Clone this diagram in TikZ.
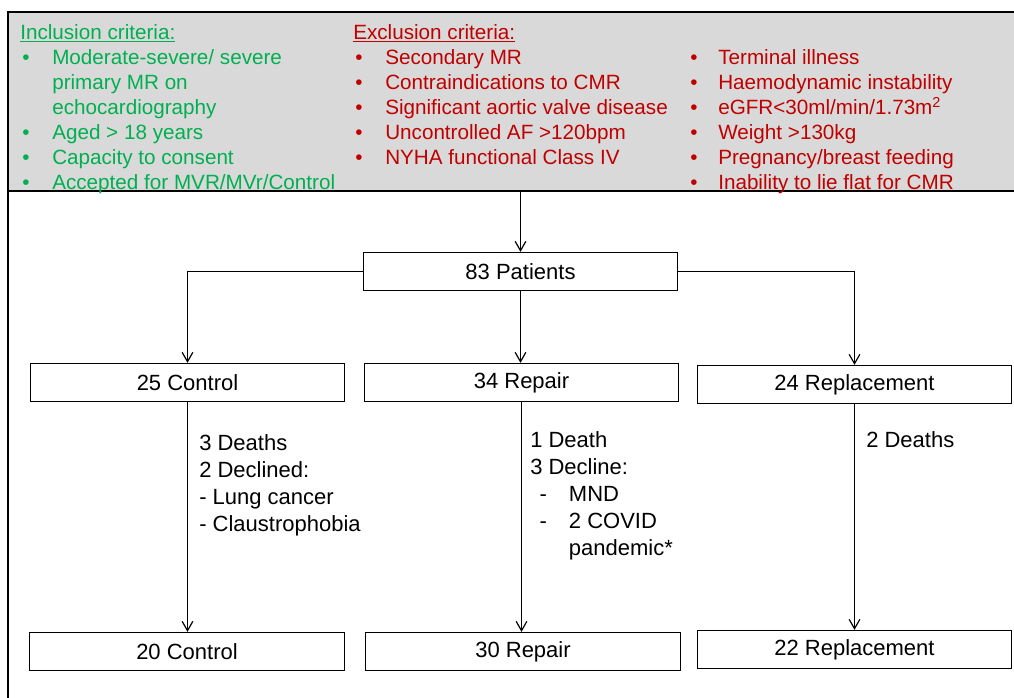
\documentclass[tikz,border=0pt]{standalone}
\usepackage{fontspec}
\setmainfont{Liberation Sans}
\usepackage{tikz}
\usetikzlibrary{arrows.meta}
\definecolor{incgreen}{HTML}{00B050}
\definecolor{excred}{HTML}{C00000}
\definecolor{critgrey}{HTML}{D9D9D9}
\newcommand{\dashline}[1]{\hspace*{7pt}\makebox[22pt][l]{-}#1}

\begin{document}
\begin{tikzpicture}[x=0.75pt,y=-0.75pt,
    every node/.style={font=\fontsize{16.5}{18}\selectfont},
    crit/.style={anchor=base west,inner sep=0pt,font=\fontsize{15.5}{18}\selectfont},
    note/.style={anchor=base west,inner sep=0pt},
    stage/.style={draw,line width=0.9pt,minimum width=236pt,minimum height=28.5pt,inner sep=0pt},
    flow/.style={line width=0.9pt,-{Straight Barb[length=7pt,width=8pt]}}]
    \clip(0,0)rectangle(1014,697);
    % criteria panel
    \fill[critgrey](8,12)rectangle(1020,191);
    \draw[line width=1.4pt](1020,12)--(8,12)--(8,700);
    \draw[line width=1pt](8,191)--(1020,191);
    \node[crit,text=incgreen](inchead) at (20,39){\underline{Inclusion criteria:}};
    \foreach \y in {64,139,164,189}
      \node[crit,text=incgreen](incb\y) at (22,\y){\textbullet};
    \foreach \t [count=\i] in {Moderate-severe/ severe,primary MR on,echocardiography,Aged > 18 years,Capacity to consent,Accepted for MVR/MVr/Control}
      \node[crit,text=incgreen](inc\i) at (52,39+25*\i){\t};
    \node[crit,text=excred](exchead) at (353,39){\underline{Exclusion criteria:}};
    \foreach \t [count=\i] in {Secondary MR,Contraindications to CMR,Significant aortic valve disease,Uncontrolled AF >120bpm,NYHA functional Class IV}{
      \node[crit,text=excred](exab\i) at (355,39+25*\i){\textbullet};
      \node[crit,text=excred](exa\i) at (385,39+25*\i){\t};
    }
    \foreach \t [count=\i] in {Terminal illness,Haemodynamic instability,eGFR<30ml/min/1.73m\textsuperscript{2},Weight >130kg,Pregnancy/breast feeding,Inability to lie flat for CMR}{
      \node[crit,text=excred](exbb\i) at (690,39+25*\i){\textbullet};
      \node[crit,text=excred](exb\i) at (718,39+25*\i){\t};
    }
    % flow
    \coordinate(split) at (520.5,191);
    \node[stage](pat) at (520.5,271.5){83 Patients};
    \node[stage](ctl) at (187.5,382.5){25 Control};
    \node[stage](rep) at (521.5,382.5){34 Repair};
    \node[stage](rpl) at (854.5,384.5){24 Replacement};
    \node[stage](ctlend) at (187,651.5){20 Control};
    \node[stage](repend) at (523,651.5){30 Repair};
    \node[stage](rplend) at (854.5,649.5){22 Replacement};
    \draw[flow](split)--(pat);
    \draw[flow](pat.west)-|(ctl.north);
    \draw[flow](pat.east)-|(rpl.north);
    \draw[flow](pat.south)--(pat.south|-rep.north);
    \draw[flow](ctl.south)--(ctl.south|-ctlend.north);
    \draw[flow](rep.south)--(rep.south|-repend.north);
    \draw[flow](rpl.south)--(rpl.south|-rplend.north);
    % losses
    \foreach \t [count=\i from 0] in {3 Deaths,2 Declined:,- Lung cancer,- Claustrophobia}
      \node[note](ctlloss\i) at (199,450+27*\i){\t};
    \foreach \t [count=\i from 0] in {1 Death,3 Decline:,\dashline{MND},\dashline{2 COVID},\hspace*{29pt}pandemic*}
      \node[note](reploss\i) at (530,447+27*\i){\t};
    \node[note](rplloss) at (866,447){2 Deaths};
\end{tikzpicture}
\end{document}
